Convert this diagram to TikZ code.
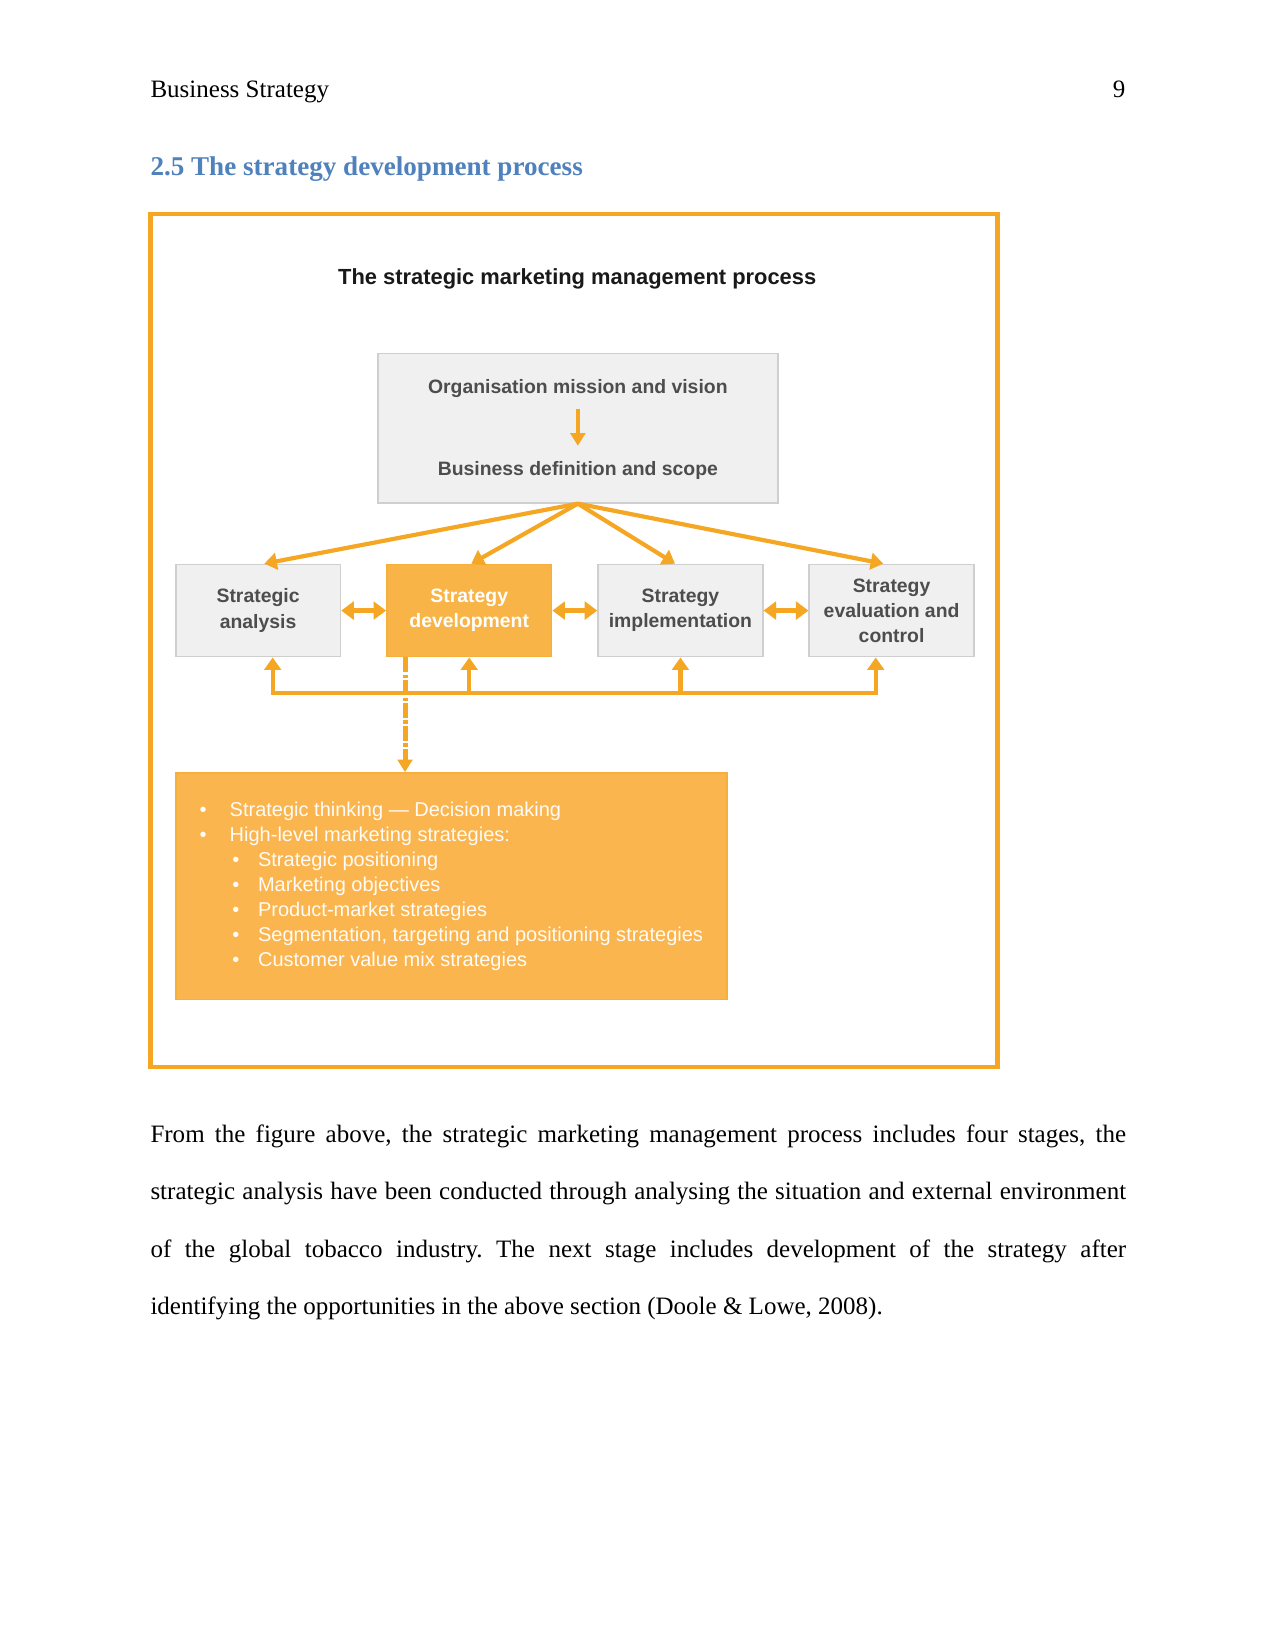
\documentclass[tikz,border=0pt]{standalone}
\usepackage{fontspec}
\setmainfont{Liberation Serif}
\newfontfamily\diagfont{Liberation Sans}
\usepackage{xcolor}
\usetikzlibrary{arrows.meta, positioning, calc}

\definecolor{frameorange}{HTML}{F5A623}
\definecolor{sdfill}{HTML}{F8B447}
\definecolor{botfill}{HTML}{FAB54E}
\definecolor{boxgray}{HTML}{F0F0F0}
\definecolor{boxline}{HTML}{CFCFCF}
\definecolor{darktext}{HTML}{4D4D4D}
\definecolor{headblue}{HTML}{4F81BD}

\newcommand{\bitem}[1]{\makebox[14.4pt][l]{\textbullet}#1}
\newcommand{\sbitem}[1]{\hspace*{15.7pt}\makebox[12.3pt][l]{\textbullet}#1}

\begin{document}
\begin{tikzpicture}[%
  x=1pt, y=-1pt,
  every node/.style={align=center},
  stage/.style={draw=boxline, fill=boxgray, line width=0.8pt, minimum width=79pt, minimum height=44.2pt, inner sep=0pt,
    text=darktext, font=\diagfont\bfseries\fontsize{9.3}{12.1}\selectfont},
  toptext/.style={text=darktext, font=\diagfont\bfseries\fontsize{9.3}{11}\selectfont, inner sep=0pt},
  arr/.style={-{Triangle[width=8pt,length=6pt]}, line width=2pt, draw=frameorange},
  darr/.style={{Triangle[width=8.5pt,length=6pt]}-{Triangle[width=8.5pt,length=6pt]}, line width=2.4pt, draw=frameorange},
  dasharr/.style={-{Triangle[width=7pt,length=6pt]}, line width=2.4pt, draw=frameorange, dash pattern=on 7pt off 1.2pt on 1.6pt off 1.2pt}
]
\useasboundingbox (0,0) rectangle (612,792);
\fill[white] (0,0) rectangle (612,792);

% page header and heading
\node[anchor=base west, inner sep=0pt, font=\fontsize{12}{14}\selectfont] (hdr) at (72,47) {Business Strategy};
\node[anchor=base east, inner sep=0pt, font=\fontsize{12}{14}\selectfont] (pagenum) at (540,47) {9};
\node[anchor=base west, inner sep=0pt, text=headblue, font=\bfseries\fontsize{13}{15}\selectfont] (heading) at (72,84) {2.5 The strategy development process};

% 1. Figure frame and title
\draw[frameorange, line width=2.2pt] (72.3,102.6) rectangle (478.6,511.9);
\node[font=\diagfont\bfseries\fontsize{10.5}{12}\selectfont, text=black!90] (title) at (276.9,133.9) {The strategic marketing management process};

% 2. Mission and scope
\node[draw=boxline, fill=boxgray, line width=0.8pt, minimum width=192pt, minimum height=71.6pt] (topbox) at (277.2,205.4) {};
\node[toptext, below=12.5pt of topbox.north] (mission) {Organisation mission and vision};
\node[toptext, above=11.5pt of topbox.south] (scope) {Business definition and scope};
\draw[arr, -{Triangle[width=7pt,length=6pt]}] ($(mission.south)+(0,5.2)$) -- ($(scope.north)+(0,-7.2)$);

% 3. The four stages
\node[stage] (sa) at (123.8,292.9) {Strategic\\analysis};
\node[stage, right=21.5pt of sa, fill=sdfill, draw=frameorange!90, text=white] (sd) {Strategy\\development};
\node[stage, right=21.5pt of sd] (si) {Strategy\\implementation};
\node[stage, right=21.5pt of si] (se) {Strategy\\evaluation and\\control};

\draw[arr] (topbox.south) -- ($(sa.north)+(3,0)$);
\draw[arr] (topbox.south) -- ($(sd.north)+(1,0)$);
\draw[arr] (topbox.south) -- ($(si.north)+(-2.6,0)$);
\draw[arr] (topbox.south) -- ($(se.north)+(-4,0)$);

\draw[darr] (sa.east) -- (sd.west);
\draw[darr] (sd.east) -- (si.west);
\draw[darr] (si.east) -- (se.west);

% 4. Feedback loop
\coordinate (fbl) at ($(sa.south)+(7,17.2)$);
\coordinate (fbr) at ($(se.south)+(-7.6,17.2)$);
\draw[arr, {Triangle[width=8pt,length=6pt]}-{Triangle[width=8pt,length=6pt]}, line join=miter] (fbl |- sa.south) -- (fbl) -- (fbr) -- (fbr |- se.south);
\draw[arr] (sd.south |- fbl) -- (sd.south);
\draw[arr] (si.south |- fbl) -- (si.south);

% 5. Strategy development detail
\node[draw=frameorange!90, fill=botfill, line width=0.8pt, minimum width=264.5pt, minimum height=108.6pt, anchor=north west] (bot) at (83.9,370.4) {};
\coordinate (dtop) at ($(sd.south west)+(9.1,0)$);
\draw[dasharr] (dtop) -- (dtop |- bot.north);

\node[anchor=north west, inner sep=0pt, align=left, text=white!97!orange, font=\diagfont\fontsize{9.6}{11.97}\selectfont] (list) at (95.6,384.6)
  {\bitem{Strategic thinking \textemdash\ Decision making}\\
   \bitem{High-level marketing strategies:}\\
   \sbitem{Strategic positioning}\\
   \sbitem{Marketing objectives}\\
   \sbitem{Product-market strategies}\\
   \sbitem{Segmentation, targeting and positioning strategies}\\
   \sbitem{Customer value mix strategies}};

% body text
\node[anchor=base west, inner sep=0pt, text width=468pt, align=justify, font=\fontsize{12}{27.6}\selectfont\frenchspacing] (para) at (72,548)
  {From the figure above, the strategic marketing management process includes four stages, the\linebreak
   strategic analysis have been conducted through analysing the situation and external environment\linebreak
   of the global tobacco industry. The next stage includes development of the strategy after\linebreak
   identifying the opportunities in the above section (Doole \& Lowe, 2008).};

\end{tikzpicture}
\end{document}
